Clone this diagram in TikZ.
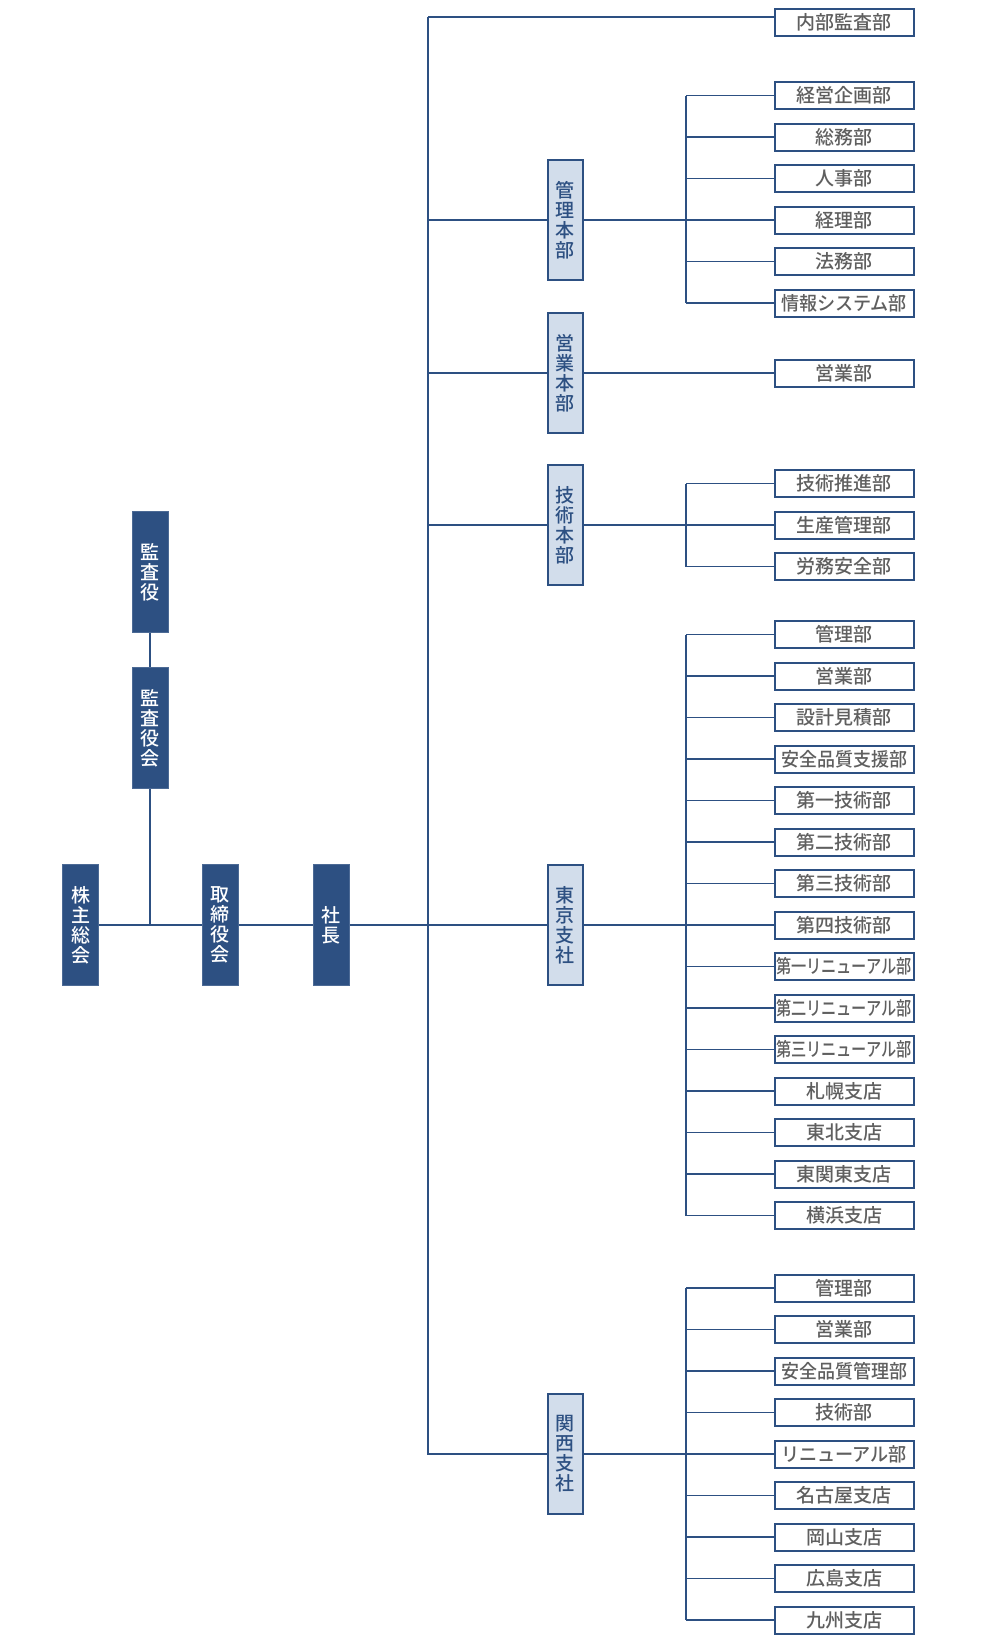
\documentclass[tikz,border=0pt]{standalone}
\usepackage{fontspec}
\setmainfont{Noto Sans CJK JP Medium}
\usepackage{xcolor}
\usepackage{graphicx}
\usepackage{tikz}
\usetikzlibrary{positioning,calc}

\definecolor{navy}{RGB}{45,80,130}
\definecolor{paleblue}{RGB}{210,221,235}
\definecolor{txtgray}{RGB}{95,95,95}

\newsavebox\lblbox
\newcommand\fitlbl[1]{\sbox\lblbox{#1}%
	\ifdim\wd\lblbox>150pt\resizebox{136pt}{\height}{\usebox\lblbox}%
	\else\ifdim\wd\lblbox>128pt\resizebox{126pt}{\height}{\usebox\lblbox}%
	\else\usebox\lblbox\fi\fi}

\tikzset{
	topbox/.style={draw=navy!85,fill=navy,text=white,line width=1pt,minimum width=36pt,minimum height=121pt,inner sep=0pt,align=center,font=\fontsize{19}{20}\selectfont},
	honbubox/.style={draw=navy,fill=paleblue,text=navy,line width=2pt,minimum width=35pt,minimum height=120pt,inner sep=0pt,align=center,font=\fontsize{19}{20}\selectfont},
	bubox/.style={draw=navy,fill=white,text=txtgray,line width=2pt,minimum width=139pt,minimum height=27pt,inner sep=0pt,font=\fontsize{19}{20}\selectfont},
	link/.style={draw=navy,line width=1.6pt}
}

\begin{document}
\begin{tikzpicture}[x=1pt,y=-1pt]
	\useasboundingbox (0,0) rectangle (980,1641);

	% left side
	\node[topbox] (kabunushi) at (80.5,925) {株\\主\\総\\会};
	\node[topbox] (torishimari) at (220,925) {取\\締\\役\\会};
	\node[topbox] (shacho) at (331,925) {社\\長};
	\node[topbox] (kansayakukai) at (150,728) {監\\査\\役\\会};
	\node[topbox] (kansayaku) at (150,572) {監\\査\\役};

	\draw[link] (kabunushi.east) -- (torishimari.west);
	\draw[link] (torishimari.east) -- (shacho.west);
	\draw[link] (kansayaku.south) -- (kansayakukai.north);
	\draw[link] (kansayakukai.south) -- (kansayakukai.south |- kabunushi.east);

	% honbu
	\node[honbubox] (kanri) at (565,220) {管\\理\\本\\部};
	\node[honbubox] (eigyo) at (565,373) {営\\業\\本\\部};
	\node[honbubox] (gijutsu) at (565,525) {技\\術\\本\\部};
	\node[honbubox] (tokyo) at (565,925) {東\\京\\支\\社};
	\node[honbubox] (kansai) at (565,1454) {関\\西\\支\\社};

	\coordinate (trunktop) at (428,17);
	\coordinate (bus) at (686,0);

	\node[bubox] (naibu) at (844,22) {内部監査部};
	\draw[link] (trunktop) -- (trunktop -| naibu.west);
	\draw[link] (trunktop) -- (trunktop |- kansai.west) -- (kansai.west);
	\foreach \hb in {kanri,eigyo,gijutsu}
		\draw[link] (trunktop |- \hb.west) -- (\hb.west);
	\draw[link] (shacho.east) -- (tokyo.west);

	% eigyo honbu
	\node[bubox] (eigyobu) at (844,373) {営業部};
	\draw[link] (eigyo.east) -- (eigyobu.west);

	% kanri honbu
	\foreach \lbl [count=\i from 0] in {経営企画部,総務部,人事部,経理部,法務部,情報システム部}{
		\node[bubox] (ka\i) at (844,95.5+41.5*\i) {\fitlbl{\lbl}};
		\draw[link] (bus |- ka\i.west) -- (ka\i.west);
	}
	\draw[link] (bus |- ka0.west) -- (bus |- ka5.west);
	\draw[link] (kanri.east) -- (bus |- kanri.east);

	% gijutsu honbu
	\foreach \lbl [count=\i from 0] in {技術推進部,生産管理部,労務安全部}{
		\node[bubox] (gi\i) at (844,483.5+41.5*\i) {\fitlbl{\lbl}};
		\draw[link] (bus |- gi\i.west) -- (gi\i.west);
	}
	\draw[link] (bus |- gi0.west) -- (bus |- gi2.west);
	\draw[link] (gijutsu.east) -- (bus |- gijutsu.east);

	% tokyo shisha
	\foreach \lbl [count=\i from 0] in {管理部,営業部,設計見積部,安全品質支援部,第一技術部,第二技術部,第三技術部,第四技術部,第一リニューアル部,第二リニューアル部,第三リニューアル部,札幌支店,東北支店,東関東支店,横浜支店}{
		\node[bubox] (tk\i) at (844,634.5+41.5*\i) {\fitlbl{\lbl}};
		\draw[link] (bus |- tk\i.west) -- (tk\i.west);
	}
	\draw[link] (bus |- tk0.west) -- (bus |- tk14.west);
	\draw[link] (tokyo.east) -- (bus |- tokyo.east);

	% kansai shisha
	\foreach \lbl [count=\i from 0] in {管理部,営業部,安全品質管理部,技術部,リニューアル部,名古屋支店,岡山支店,広島支店,九州支店}{
		\node[bubox] (ks\i) at (844,1288+41.5*\i) {\fitlbl{\lbl}};
		\draw[link] (bus |- ks\i.west) -- (ks\i.west);
	}
	\draw[link] (bus |- ks0.west) -- (bus |- ks8.west);
	\draw[link] (kansai.east) -- (bus |- kansai.east);
\end{tikzpicture}
\end{document}
